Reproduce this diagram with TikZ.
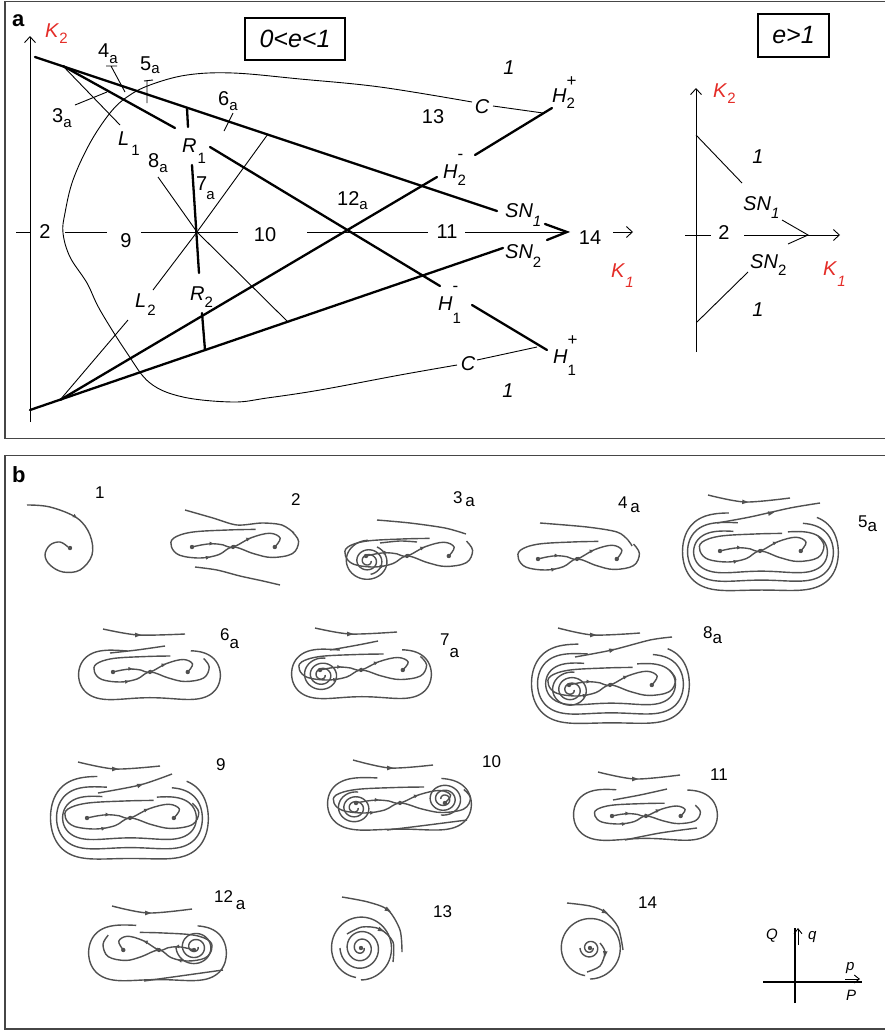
\documentclass[tikz,border=0pt]{standalone}
\usepackage{fontspec}
\setmainfont{Liberation Sans}
\usetikzlibrary{arrows.meta,decorations.markings}
\definecolor{kred}{RGB}{228,45,40}
\definecolor{tg}{RGB}{80,80,80}
\definecolor{fr}{RGB}{70,70,70}
\tikzset{
 thk/.style={line width=2.3pt, line cap=round},
 thn/.style={line width=0.9pt},
 traj/.style={draw=tg, line width=1.4pt},
 arr/.style={postaction={decorate,decoration={markings,mark=at position #1 with {\arrow[tg]{Latex[length=5pt,width=4pt]}}}}},
 lbl/.style={font=\fontsize{20}{20}\selectfont, inner sep=0pt, anchor=base west},
 lblc/.style={font=\fontsize{20}{20}\selectfont, inner sep=0pt},
 blbl/.style={font=\fontsize{17}{17}\selectfont, inner sep=0pt, anchor=base west},
 barb/.style={-{Straight Barb[length=6pt,width=11pt]}},
}
\newcommand{\sbs}[3]{#1\raisebox{-#3pt}{\fontsize{15}{15}\selectfont #2}}
\newcommand{\sba}[3]{#1\raisebox{-#3pt}{\fontsize{17}{17}\selectfont #2}}
\newcommand{\hsup}[4]{\textit{H}\rlap{\raisebox{#4pt}{\fontsize{17}{17}\selectfont #2}}\raisebox{-#3pt}{\fontsize{15}{15}\selectfont #1}}
% arrow tip: x y angle
\newcommand{\tip}[3]{\fill[tg, shift={(#1,#2)}, rotate=#3] (3.4,0) -- (-2.8,2.3) -- (-2.8,-2.3) -- cycle;}
% peanut loop: cx cy a b waist t0 t1 growth
\newcommand{\pnut}[8]{\draw[traj] plot[domain=#6:#7, samples=110, smooth, variable=\t] ({#1+(1+#8*((\t-(#6))/360))*#3*cos(\t)*(1+0.22*sin(\t)*sin(\t))},{#2+(1+#8*((\t-(#6))/360))*#4*sin(\t)*(1-#5*(sin(\t)*sin(\t))^3)});}
% spiral: cx cy r0 r1 degrees start yratio
\newcommand{\spr}[7]{\draw[traj] plot[domain=0:#5, samples=170, smooth, variable=\t] ({#1+(#3+(#4-#3)*(\t/#5))*cos(\t+#6)},{#2+#7*(#3+(#4-#3)*(\t/#5))*sin(\t+#6)});}
% figure-eight core: cx cy W H
\newcommand{\ecore}[4]{%
\begin{scope}[shift={(#1,#2)}, x=#3pt, y=-#4pt]
 \draw[traj, arr=0.22, arr=0.6] plot[smooth, tension=0.6] coordinates {(-1,0) (-0.75,-0.2) (-0.5,-0.3) (-0.25,-0.2) (0,0) (0.45,-0.85) (0.9,-1.25) (1.15,-0.8) (1.02,0)};
 \draw[traj, arr=0.55, arr=0.67] plot[smooth, tension=0.6] coordinates {(0.55,-1.6) (-0.1,-1.55) (-1.0,-1.35) (-1.45,-0.8) (-1.5,0) (-1.3,0.75) (-0.8,1.0) (-0.35,0.7) (0,0) (0.5,0.6) (0.95,0.95) (1.45,0.6) (1.6,-0.5) (1.45,-1.35)};
 \fill[tg] (-1,0) circle[radius=2.2pt] (0,0) circle[radius=2.1pt] (1.02,0) circle[radius=2.2pt];
\end{scope}}
\begin{document}
\begin{tikzpicture}[x=1pt,y=-1pt]
\useasboundingbox (0,0) rectangle (885,1031);
% frames
\draw[fr, line width=1.6pt] (5,1.5) rectangle (895,438.5);
\draw[fr, line width=1.6pt] (5,455.5) rectangle (895,1029);
\node[font=\bfseries\fontsize{22}{22}\selectfont, inner sep=0pt, anchor=base west] (la) at (12,26) {a};
\node[font=\bfseries\fontsize{22}{22}\selectfont, inner sep=0pt, anchor=base west] (lb) at (12,482) {b};

% ---------------- panel a, left diagram ----------------
\draw[thn, barb] (30,422) -- (30,36);
\node[lbl, text=kred] (k2) at (45,37) {\sbs{\textit{K}}{2}{6}};
\draw[thn] (16,232) -- (30,232) (65,232) -- (107,232) (141,232) -- (238,232) (307,232) -- (428,232) (465,232) -- (567,232);
\node[lblc] (r2) at (45,232) {2};
\node[lblc] (r9) at (126,241) {9};
\node[lblc] (r10) at (265,235) {10};
\node[lblc] (r11) at (447,232) {11};
\node[lblc] (r14) at (590,238) {14};
\draw[thn, barb] (613,232) -- (633,232);
\node[lbl, text=kred] (k1) at (611,277) {\sbs{\textit{K}}{\textit{1}}{10}};

\node[draw, line width=1.3pt, minimum width=100pt, minimum height=42pt, font=\itshape\fontsize{25}{25}\selectfont] (box1) at (295,39) {0<e<1};
\node[draw, line width=1.3pt, minimum width=71pt, minimum height=43pt, font=\itshape\fontsize{25}{25}\selectfont] (box2) at (793.5,35.5) {e>1};

\draw[thk] (35,57) -- (497,211);
\draw[thk] (545,224) -- (567,232) -- (547,240);
\draw[thk] (63,66) -- (175,128);
\draw[thk] (187,108) -- (188,127);
\draw[thk] (210,147) -- (440,286);
\draw[thk] (472,305) -- (547,350);
\draw[thk] (192,165) -- (199,273);
\draw[thk] (202,313) -- (205,350);
\draw[thk] (30,410) -- (503,248);
\draw[thk] (60,400) -- (437,177);
\draw[thk] (475,155) -- (552,108);

\draw[thn] (63,66) -- (120,125);
\draw[thn] (75,105) -- (107,92);
\draw[thn] (111,66) -- (125,92) (106,66) -- (117,66);
\draw[thn] (147,81) -- (147,103) (144,81) -- (153,80);
\draw[thn] (233,113) -- (224,131);
\draw[thn] (158,177) -- (197,232) -- (288,322);
\draw[thn] (268,134) -- (197,232) -- (153,290);
\draw[thn] (128,320) -- (60,400);
\draw[thn] (543,113) -- (493,106);
\draw[thn] plot[smooth, tension=0.6] coordinates {(472,102) (380,87) (300,79) (233,73) (187,75) (150,85) (127,97) (110,113) (90,143) (73,180) (65,213) (63,233) (70,257) (87,283) (100,310) (127,353) (150,383) (183,397) (233,402) (267,398) (320,390) (400,375) (457,365)};
\draw[thn] (477,360) -- (537,347);

\node[lbl] (l3a) at (52,122) {\sbs{3}{a}{5}};
\node[lbl] (l4a) at (98,57) {\sbs{4}{a}{6}};
\node[lbl] (l5a) at (140,70) {\sbs{5}{a}{3}};
\node[lbl] (l6a) at (218,105) {\sbs{6}{a}{5}};
\node[lbl] (l8a) at (148,167) {\sbs{8}{a}{5}};
\node[lbl] (l7a) at (196,190) {\sbs{7\kern-1pt}{a}{9}};
\node[lbl] (lL1) at (118,145) {\sbs{\textit{L}\kern2pt}{1}{10}};
\node[lbl] (lR1) at (182,152) {\sbs{\textit{R}\kern1pt}{1}{11}};
\node[lbl] (lL2) at (135,307) {\sbs{\textit{L}\kern1pt}{2}{8}};
\node[lbl] (lR2) at (190,300) {\sbs{\textit{R}}{2}{7}};
\node[lbl] (l12a) at (337,205) {\sbs{12}{a}{4}};
\node[lblc] (l13) at (433,117) {13};
\node[lblc, font=\itshape\fontsize{20}{20}\selectfont] (l1u) at (509,68) {1};
\node[lblc, font=\itshape\fontsize{20}{20}\selectfont] (l1d) at (508,391) {1};
\node[lblc, font=\itshape\fontsize{20}{20}\selectfont] (cu) at (482,107) {C};
\node[lblc, font=\itshape\fontsize{20}{20}\selectfont] (cd) at (468,364) {C};
\node[lbl] (h2m) at (443,178) {\hsup{2}{-}{7}{19}};
\node[lbl] (h2p) at (552,102) {\hsup{2}{+}{6}{16}};
\node[lbl] (h1m) at (438,310) {\hsup{1}{-}{13}{19}};
\node[lbl] (h1p) at (553,363) {\hsup{1}{+}{12}{18}};
\node[lbl] (sn1) at (505,217) {\sbs{\textit{SN}}{\textit{1}}{9}};
\node[lbl] (sn2) at (505,258) {\sbs{\textit{SN}}{2}{9}};

% ---------------- panel a, right diagram ----------------
\draw[thn, barb] (696,352) -- (696,88);
\node[lbl, text=kred] (k2r) at (713,97) {\sbs{\textit{K}}{2}{6}};
\draw[thn] (685,235) -- (711,235);
\draw[thn, barb] (744,235) -- (840,235);
\node[lblc] (r2r) at (724,233) {2};
\draw[thn] (696,135) -- (742,183);
\draw[thn] (697,322) -- (748,272);
\draw[thn] (782,220) -- (808,235) -- (788,244);
\node[lbl] (sn1r) at (743,210) {\sbs{\textit{SN}}{\textit{1}}{8}};
\node[lbl] (sn2r) at (750,268) {\sbs{\textit{SN}}{2}{7}};
\node[lblc, font=\itshape\fontsize{20}{20}\selectfont] (o1u) at (758,157) {1};
\node[lblc, font=\itshape\fontsize{20}{20}\selectfont] (o1d) at (758,310) {1};
\node[lbl, text=kred] (k1r) at (823,275) {\sbs{\textit{K}}{\textit{1}}{11}};

% ---------------- panel b ----------------
\node[blbl] (b1) at (95,498) {1};
\node[blbl] (b2) at (291,505) {2};
\node[blbl] (b3) at (453,503) {\sba{3\,}{a}{3}};
\node[blbl] (b4) at (618,508) {\sba{4\,}{a}{4}};
\node[blbl] (b5) at (858,527) {\sba{5}{a}{4}};
\node[blbl] (b6) at (220,640) {\sba{6}{a}{8}};
\node[blbl] (b7) at (440,645) {\sba{7}{a}{12}};
\node[blbl] (b8) at (703,638) {\sba{8}{a}{5}};
\node[blbl] (b9) at (216,770) {9};
\node[blbl] (b10) at (482,767) {10};
\node[blbl] (b11) at (710,780) {11};
\node[blbl] (b12) at (214,902) {\sba{12\,}{a}{7}};
\node[blbl] (b13) at (433,917) {13};
\node[blbl] (b14) at (638,908) {14};

% 1
\draw[traj, arr=0.28] plot[smooth, tension=0.6] coordinates {(27,505) (50,507) (77,518) (90,535) (92,555) (80,570) (63,572) (50,565) (45,555) (50,545) (60,542) (68,547)};
\fill[tg] (70,548) circle[radius=2.2pt];
% 2
\ecore{233}{547}{41}{11}
\draw[traj] plot[smooth] coordinates {(185,510) (213,518) (237,525) (262,523) (282,525) (294,533)};
\draw[traj] plot[smooth] coordinates {(195,567) (217,570) (240,576) (263,581) (280,585)};
% 3a
\ecore{407}{556}{41}{11}
\spr{368}{561}{3}{15}{800}{0}{0.9}
\spr{368}{561}{18}{23}{330}{-60}{0.9}
\draw[traj] plot[smooth] coordinates {(377,520) (410,523) (445,528) (466,534)};
\draw[traj] plot[smooth] coordinates {(380,543) (400,541) (417,542)};
% 4a
\ecore{577}{559}{39}{11}
\draw[traj] plot[smooth] coordinates {(540,523) (587,527) (617,532) (628,540) (632,546)};
% 5a
\ecore{760}{551}{40}{11}
\pnut{761}{552}{66}{27}{0.3}{-70}{250}{0.03}
\pnut{761}{552}{72}{37}{0.25}{-60}{255}{0.03}
\pnut{761}{552}{77}{47}{0.2}{-50}{250}{0.03}
\draw[traj] plot[smooth] coordinates {(708,495) (745,502) (790,498)};
\tip{745}{502}{-3}
\draw[traj] plot[smooth] coordinates {(717,523) (750,517) (790,508) (820,503)};
\tip{771}{513}{12}
% 6a
\ecore{150}{672}{37}{10}
\pnut{150}{675}{70}{32}{0.3}{-60}{255}{0.03}
\draw[traj] plot[smooth] coordinates {(103,629) (138,635) (185,634)};
\tip{138}{635}{0}
\draw[traj] plot[smooth] coordinates {(110,653) (137,650) (165,646)};
% 7a
\ecore{361}{670}{41}{10}
\spr{322}{675}{3}{19}{1000}{0}{0.9}
\pnut{362}{674}{69}{32}{0.3}{-60}{255}{0.03}
\draw[traj] plot[smooth] coordinates {(315,628) (350,634) (397,632)};
\tip{350}{634}{0}
\draw[traj] plot[smooth] coordinates {(330,650) (358,645) (378,641)};
% 8a
\ecore{610}{685}{41}{11}
\spr{571}{690}{3}{20}{1000}{0}{0.9}
\pnut{611}{684}{64}{27}{0.3}{-70}{250}{0.03}
\pnut{611}{684}{72}{38}{0.25}{-60}{255}{0.03}
\pnut{611}{684}{78}{48}{0.2}{-50}{250}{0.03}
\draw[traj] plot[smooth] coordinates {(558,628) (593,635) (640,633)};
\tip{593}{635}{0}
\draw[traj] plot[smooth] coordinates {(575,657) (612,650) (650,640) (672,637)};
\tip{612}{650}{15}
% 9
\ecore{130}{818}{43}{11}
\pnut{130}{818}{66}{28}{0.3}{-70}{250}{0.03}
\pnut{130}{818}{72}{39}{0.25}{-60}{255}{0.03}
\pnut{130}{818}{78}{50}{0.2}{-50}{250}{0.03}
\draw[traj] plot[smooth] coordinates {(78,762) (115,769) (160,766)};
\tip{115}{769}{0}
\draw[traj] plot[smooth] coordinates {(98,793) (140,785) (172,774)};
\tip{140}{785}{20}
% 10
\ecore{400}{803}{44}{10}
\spr{355}{808}{3}{18}{1000}{0}{0.9}
\spr{444}{799}{3}{18}{1000}{180}{0.9}
\pnut{400}{804}{71}{33}{0.25}{-60}{255}{0.03}
\draw[traj] plot[smooth] coordinates {(353,760) (390,768) (433,765)};
\tip{390}{768}{0}
\draw[traj] plot[smooth] coordinates {(387,830) (420,826) (467,820)};
% 11
\ecore{646}{816}{34}{8}
\pnut{646}{815}{71}{33}{0.3}{-60}{250}{0.03}
\draw[traj] plot[smooth] coordinates {(598,772) (635,779) (680,775)};
\tip{635}{779}{0}
\draw[traj] plot[smooth] coordinates {(613,800) (640,795) (667,789)};
\draw[traj] plot[smooth] coordinates {(625,840) (660,833) (697,828)};
% 12a
\ecore{159}{950}{-35}{11}
\spr{195}{947}{3}{19}{900}{0}{0.95}
\pnut{158}{953}{68}{35}{0.25}{-60}{255}{0.03}
\draw[traj] plot[smooth] coordinates {(112,906) (148,913) (192,909)};
\tip{148}{913}{0}
\draw[traj] plot[smooth] coordinates {(144,981) (180,976) (223,970)};
% 13
\spr{361}{948}{3}{21}{900}{0}{1.05}
\spr{361}{948}{29}{31}{350}{100}{1.03}
\fill[tg] (361,948) circle[radius=2.2pt];
\draw[traj] plot[smooth] coordinates {(347,934) (362,927) (380,929) (393,942) (393,962)};
\tip{381}{930}{-25}
\draw[traj] plot[smooth] coordinates {(342,897) (368,902) (388,910) (400,930) (402,952)};
\tip{388}{910}{-30}
% 14
\spr{590}{948}{3}{10}{540}{0}{1}
\spr{590}{948}{28}{31}{350}{100}{1}
\fill[tg] (590,948) circle[radius=2.2pt];
\draw[traj] plot[smooth] coordinates {(600,943) (605,952) (600,966) (587,972)};
\tip{605}{954}{-95}
\draw[traj] plot[smooth] coordinates {(567,903) (590,906) (605,912) (618,927) (623,950)};
\tip{605}{912}{-25}
% axes
\draw[line width=1.8pt] (795,1003) -- (795,928);
\draw[line width=1.8pt] (763,982) -- (862,982);
\draw[thn, -{Straight Barb[length=5pt,width=8pt]}] (798,945) -- (798,928);
\draw[thn, -{Straight Barb[length=5pt,width=8pt]}] (845,979) -- (860,979);
\node[blbl, font=\itshape\fontsize{15}{15}\selectfont] (Qq) at (766,939) {Q};
\node[blbl, font=\itshape\fontsize{15}{15}\selectfont] (qq) at (808,939) {q};
\node[blbl, font=\itshape\fontsize{15}{15}\selectfont] (pp) at (846,970) {p};
\node[blbl, font=\itshape\fontsize{15}{15}\selectfont] (PP) at (846,1000) {P};
\end{tikzpicture}
\end{document}
